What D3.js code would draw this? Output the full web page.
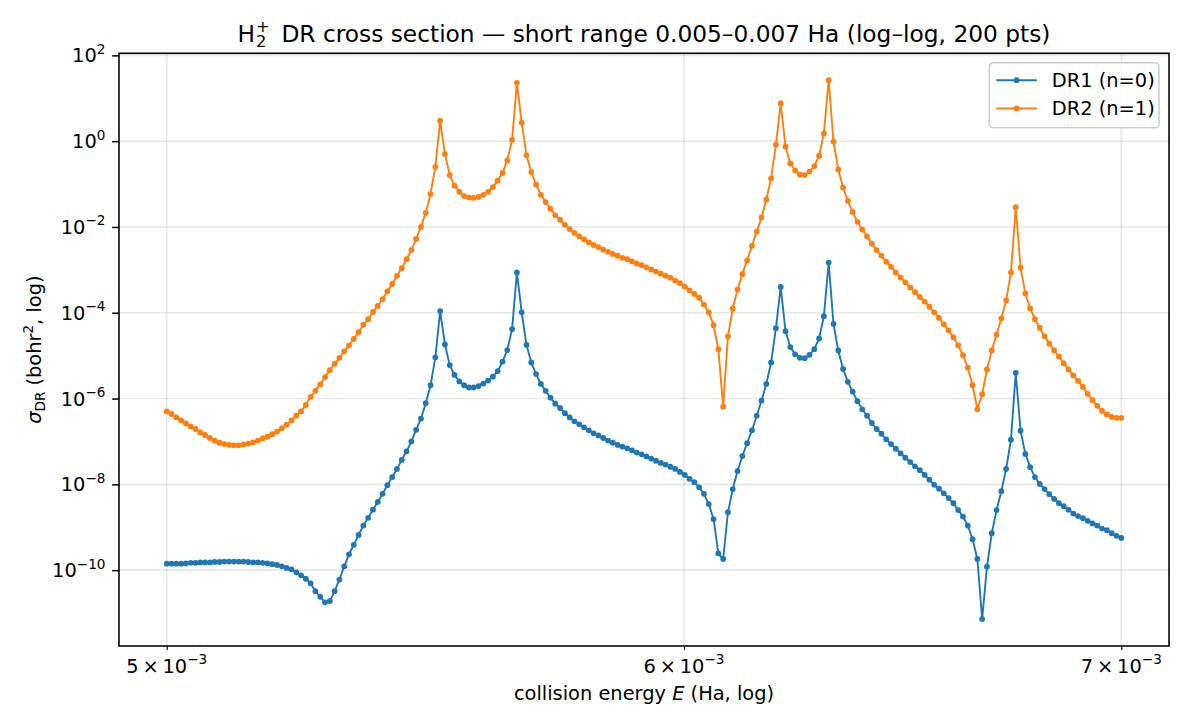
<!DOCTYPE html>
<html>
<head>
<meta charset="utf-8">
<script src="https://cdn.jsdelivr.net/npm/d3@7"></script>
<style>
  body { margin: 0; background: #fff; }
  svg { font-family: "DejaVu Sans", sans-serif; }
</style>
</head>
<body>
<svg id="chart" width="1190" height="728"></svg>
<script>
// Energy grid: 200 log-spaced samples between 0.005 and 0.007 Ha (as the title says)
const nPts = 200;
const eMin = 0.005, eMax = 0.007;
const energies = d3.range(nPts).map(i => eMin * Math.pow(eMax / eMin, i / (nPts - 1)));

// log10(sigma_DR), one value per sample
const logDR1 = [
  -9.85,-9.85,-9.85,-9.85,-9.84,-9.83,-9.83,-9.82,-9.82,-9.82,
  -9.81,-9.81,-9.80,-9.80,-9.80,-9.80,-9.80,-9.81,-9.82,-9.82,
  -9.83,-9.84,-9.86,-9.88,-9.91,-9.95,-9.98,-10.05,-10.12,-10.20,
  -10.31,-10.49,-10.62,-10.75,-10.72,-10.49,-10.22,-9.91,-9.63,-9.41,
  -9.18,-8.96,-8.78,-8.59,-8.41,-8.22,-8.02,-7.83,-7.64,-7.43,
  -7.23,-7.00,-6.73,-6.47,-6.11,-5.69,-5.04,-3.96,-4.74,-5.22,
  -5.45,-5.60,-5.69,-5.74,-5.74,-5.71,-5.65,-5.58,-5.49,-5.36,
  -5.14,-4.87,-4.38,-3.06,-3.99,-4.75,-5.16,-5.43,-5.66,-5.82,
  -5.98,-6.12,-6.22,-6.34,-6.44,-6.53,-6.60,-6.67,-6.74,-6.81,
  -6.86,-6.92,-6.98,-7.03,-7.08,-7.12,-7.16,-7.21,-7.26,-7.30,
  -7.35,-7.40,-7.45,-7.50,-7.54,-7.59,-7.64,-7.71,-7.78,-7.87,
  -7.95,-8.07,-8.22,-8.46,-8.81,-9.61,-9.74,-8.65,-8.11,-7.69,
  -7.34,-7.04,-6.74,-6.40,-6.05,-5.66,-5.16,-4.36,-3.40,-4.43,
  -4.80,-4.97,-5.05,-5.06,-4.98,-4.85,-4.60,-4.08,-2.83,-4.26,
  -4.88,-5.31,-5.61,-5.84,-6.06,-6.25,-6.40,-6.57,-6.71,-6.82,
  -6.95,-7.06,-7.17,-7.28,-7.38,-7.48,-7.58,-7.67,-7.78,-7.89,
  -8.01,-8.10,-8.21,-8.32,-8.44,-8.60,-8.75,-8.96,-9.28,-9.74,
  -11.14,-9.92,-9.14,-8.60,-8.16,-7.64,-6.96,-5.40,-6.75,-7.29,
  -7.60,-7.83,-7.99,-8.11,-8.23,-8.34,-8.44,-8.51,-8.59,-8.68,
  -8.74,-8.79,-8.85,-8.91,-8.96,-9.03,-9.07,-9.14,-9.20,-9.25
];

const logDR2 = [
  -6.30,-6.36,-6.44,-6.51,-6.58,-6.65,-6.71,-6.79,-6.85,-6.92,
  -6.98,-7.03,-7.06,-7.08,-7.09,-7.09,-7.07,-7.05,-7.02,-6.98,
  -6.93,-6.89,-6.83,-6.77,-6.69,-6.61,-6.51,-6.40,-6.30,-6.15,
  -5.96,-5.82,-5.67,-5.50,-5.34,-5.19,-5.05,-4.90,-4.76,-4.61,
  -4.45,-4.28,-4.15,-3.98,-3.84,-3.68,-3.50,-3.33,-3.14,-2.96,
  -2.75,-2.54,-2.28,-2.00,-1.67,-1.23,-0.60,0.48,-0.30,-0.79,
  -1.04,-1.18,-1.28,-1.31,-1.32,-1.30,-1.25,-1.18,-1.07,-0.92,
  -0.74,-0.45,0.03,1.36,0.43,-0.33,-0.72,-1.01,-1.25,-1.42,
  -1.58,-1.73,-1.83,-1.95,-2.05,-2.14,-2.22,-2.29,-2.36,-2.42,
  -2.47,-2.53,-2.58,-2.63,-2.67,-2.72,-2.75,-2.80,-2.85,-2.89,
  -2.94,-2.99,-3.04,-3.09,-3.14,-3.18,-3.25,-3.31,-3.39,-3.48,
  -3.56,-3.65,-3.81,-3.99,-4.29,-4.85,-6.19,-4.55,-3.90,-3.46,
  -3.10,-2.78,-2.44,-2.11,-1.78,-1.36,-0.87,-0.08,0.88,-0.13,
  -0.52,-0.68,-0.78,-0.79,-0.71,-0.58,-0.34,0.18,1.42,-0.01,
  -0.66,-1.08,-1.39,-1.65,-1.88,-2.06,-2.22,-2.39,-2.54,-2.67,
  -2.81,-2.93,-3.06,-3.18,-3.29,-3.41,-3.52,-3.63,-3.74,-3.86,
  -3.99,-4.12,-4.27,-4.41,-4.57,-4.76,-4.99,-5.28,-5.69,-6.25,
  -5.90,-5.32,-4.88,-4.51,-4.13,-3.71,-3.06,-1.54,-2.95,-3.55,
  -3.90,-4.15,-4.35,-4.55,-4.72,-4.88,-5.02,-5.18,-5.32,-5.46,
  -5.59,-5.73,-5.89,-6.04,-6.17,-6.29,-6.37,-6.43,-6.45,-6.45
];

const seriesNames = ["DR1 (n=0)", "DR2 (n=1)"];
const seriesColors = ["#1f77b4", "#ff7f0e"];

// tick labels
const xTickMantissas = [5, 6, 7];          // × 10^-3
const yTickExponents = [2, 0, -2, -4, -6, -8, -10];

// Layout (matplotlib figure 8.5 x 5.2 in at 140 dpi)
const margin = { top: 53.3, right: 21, bottom: 82, left: 119 };
const W = 1190, H = 728;
const plotW = W - margin.left - margin.right;
const plotH = H - margin.top - margin.bottom;
const fs = 19.4;   // 10 pt

const svg = d3.select("#chart");
const g = svg.append("g").attr("transform", `translate(${margin.left},${margin.top})`);

const series = [logDR1, logDR2].map((vals, k) => ({
  name: seriesNames[k],
  color: seriesColors[k],
  points: vals.map((v, i) => ({ e: energies[i], s: Math.pow(10, v) }))
}));

// matplotlib-like 5% margins in log space
function logDomain(lo, hi) {
  const a = Math.log10(lo), b = Math.log10(hi), pad = (b - a) * 0.05;
  return [Math.pow(10, a - pad), Math.pow(10, b + pad)];
}
const allS = series.flatMap(s => s.points.map(p => p.s));

const x = d3.scaleLog().domain(logDomain(d3.min(energies), d3.max(energies))).range([0, plotW]);
const y = d3.scaleLog().domain(logDomain(d3.min(allS), d3.max(allS))).range([plotH, 0]);

// grid
g.append("g").selectAll("line").data(xTickMantissas).enter().append("line")
  .attr("x1", d => x(d * 1e-3)).attr("x2", d => x(d * 1e-3))
  .attr("y1", 0).attr("y2", plotH)
  .attr("stroke", "#b0b0b0").attr("stroke-opacity", 0.3).attr("stroke-width", 1.56);
g.append("g").selectAll("line").data(yTickExponents).enter().append("line")
  .attr("x1", 0).attr("x2", plotW)
  .attr("y1", d => y(Math.pow(10, d))).attr("y2", d => y(Math.pow(10, d)))
  .attr("stroke", "#b0b0b0").attr("stroke-opacity", 0.3).attr("stroke-width", 1.56);

// series
const line = d3.line().x(d => x(d.e)).y(d => y(d.s));
series.forEach(s => {
  g.append("path")
    .datum(s.points)
    .attr("d", line)
    .attr("fill", "none")
    .attr("stroke", s.color)
    .attr("stroke-width", 1.9)
    .attr("stroke-linejoin", "round");
  g.append("g").selectAll("circle").data(s.points).enter().append("circle")
    .attr("cx", d => x(d.e)).attr("cy", d => y(d.s))
    .attr("r", 2.9).attr("fill", s.color);
});

// axes with d3, label text styled like matplotlib mathtext
const xAxis = d3.axisBottom(x)
  .tickValues(xTickMantissas.map(m => m * 1e-3))
  .tickSize(3.9).tickPadding(6.8).tickFormat("");
const xg = g.append("g").attr("transform", `translate(0,${plotH})`).call(xAxis);
xg.select(".domain").remove();
xg.selectAll(".tick line").attr("stroke", "#000").attr("stroke-width", 1.17);

xTickMantissas.forEach(m => {
  const t = g.append("text")
    .attr("x", x(m * 1e-3)).attr("y", plotH + 27)
    .attr("text-anchor", "middle").attr("font-size", fs).attr("fill", "#000");
  t.append("tspan").text(m + "\u2009\u00d7\u200910");
  t.append("tspan").attr("font-size", fs * 0.7).attr("dy", -8.5).text("\u22123");
});

const yAxis = d3.axisLeft(y)
  .tickValues(yTickExponents.map(e => Math.pow(10, e)))
  .tickSize(6.8).tickPadding(6.8).tickFormat("");
const yg = g.append("g").call(yAxis);
yg.select(".domain").remove();
yg.selectAll(".tick line").attr("stroke", "#000").attr("stroke-width", 1.56);

yTickExponents.forEach(e => {
  const t = g.append("text")
    .attr("x", -13.6).attr("y", y(Math.pow(10, e)) + 7)
    .attr("text-anchor", "end").attr("font-size", fs).attr("fill", "#000");
  t.append("tspan").text("10");
  t.append("tspan").attr("font-size", fs * 0.7).attr("dy", -8.5)
    .text(e < 0 ? "\u2212" + (-e) : String(e));
});

// frame
g.append("rect")
  .attr("x", 0).attr("y", 0).attr("width", plotW).attr("height", plotH)
  .attr("fill", "none").attr("stroke", "#000").attr("stroke-width", 1.56);

// title: H_2^+ with stacked sub/superscript
const title = svg.append("text")
  .attr("x", margin.left + plotW / 2).attr("y", 41.5)
  .attr("text-anchor", "middle").attr("font-size", 23.3).attr("fill", "#000");
title.append("tspan").text("H");
title.append("tspan").attr("font-size", 16.3).attr("dy", 5).attr("dx", 1).text("2");
title.append("tspan").attr("font-size", 16.3).attr("dy", -15).attr("dx", -10.4).text("+");
title.append("tspan").attr("dy", 10).text("\u2002DR cross section \u2014 short range 0.005\u20130.007 Ha (log\u2013log, 200 pts)");

// x label
const xl = svg.append("text")
  .attr("x", margin.left + plotW / 2).attr("y", 700)
  .attr("text-anchor", "middle").attr("font-size", fs).attr("fill", "#000");
xl.append("tspan").text("collision energy ");
xl.append("tspan").attr("font-style", "italic").text("E");
xl.append("tspan").text(" (Ha, log)");

// y label
const yl = svg.append("text")
  .attr("transform", `translate(41,${margin.top + plotH / 2}) rotate(-90)`)
  .attr("text-anchor", "middle").attr("font-size", fs).attr("fill", "#000");
yl.append("tspan").attr("font-style", "italic").text("\u03c3");
yl.append("tspan").attr("font-size", fs * 0.7).attr("dy", 3.5).text("DR");
yl.append("tspan").attr("dy", -3.5).text(" (bohr");
yl.append("tspan").attr("font-size", fs * 0.7).attr("dy", -8).text("2");
yl.append("tspan").attr("dy", 8).text(", log)");

// legend
const legend = svg.append("g").attr("transform", "translate(989.3,62.7)");
legend.append("rect")
  .attr("width", 169.7).attr("height", 65).attr("rx", 3.9)
  .attr("fill", "#fff").attr("fill-opacity", 0.8)
  .attr("stroke", "#cccccc").attr("stroke-width", 1.56);
series.forEach((s, i) => {
  const ly = 17.5 + i * 28.3;
  legend.append("line")
    .attr("x1", 7).attr("x2", 47.5).attr("y1", ly).attr("y2", ly)
    .attr("stroke", s.color).attr("stroke-width", 1.9);
  legend.append("circle").attr("cx", 27.3).attr("cy", ly).attr("r", 2.9).attr("fill", s.color);
  legend.append("text")
    .attr("x", 62.5).attr("y", ly + 7)
    .attr("font-size", fs).attr("fill", "#000")
    .text(s.name);
});
</script>
</body>
</html>
